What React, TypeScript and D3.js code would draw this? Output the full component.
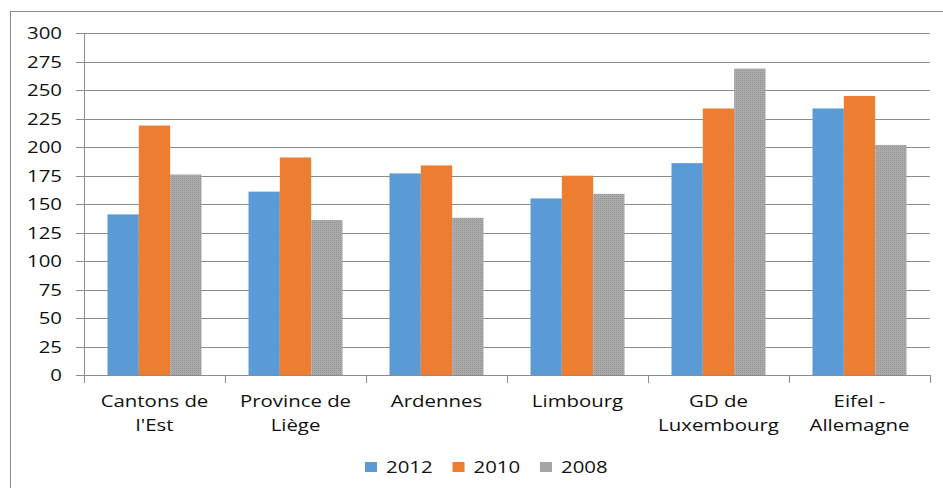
import React from 'react';
import * as d3 from 'd3';

const categories = [
  ["Cantons de", "l'Est"],
  ['Province de', 'Liège'],
  ['Ardennes'],
  ['Limbourg'],
  ['GD de', 'Luxembourg'],
  ['Eifel -', 'Allemagne'],
];
const seriesNames = ['2012', '2010', '2008'];
const values2012 = [141, 161, 177, 155, 186, 234];
const values2010 = [219, 191, 184, 175, 234, 245];
const values2008 = [176, 136, 138, 159, 269, 202];
const yTicks = [0, 25, 50, 75, 100, 125, 150, 175, 200, 225, 250, 275, 300];

const colors = ['#5B9BD5', '#ED7D31', 'url(#dots)'];
const legendColors = ['#5B9BD5', '#ED7D31', '#A5A5A5'];

const width = 943;
const height = 488;
const margin = { top: 33.3, right: 13, bottom: 113, left: 84 };
const font = "'Open Sans', sans-serif";
const sx = 1.2;

const App: React.FC = () => {
  const series = [values2012, values2010, values2008];
  const x0 = d3.scaleBand<number>()
    .domain(d3.range(categories.length))
    .range([margin.left, width - margin.right])
    .paddingInner(0)
    .paddingOuter(0);
  const x1 = d3.scaleBand<number>()
    .domain(d3.range(seriesNames.length))
    .range([x0.bandwidth() * 0.1667, x0.bandwidth() * 0.8333]);
  const y = d3.scaleLinear().domain([0, 300]).range([height - margin.bottom, margin.top]);
  const x0Right = width - margin.right;

  return (
    <svg width={width} height={height} style={{ position: 'absolute', left: 0, top: 0 }}>
      <defs>
        <pattern id="dots" width={2} height={2} patternUnits="userSpaceOnUse">
          <rect width={2} height={2} fill="#ababab" />
          <rect width={1} height={1} fill="#939393" />
        </pattern>
      </defs>
      <rect width={width} height={height} fill="#fff" />
      <rect x={10.5} y={11.5} width={width + 20} height={height + 20} fill="none" stroke="#8a8a8a" />

      {yTicks.map(t => (
        <g key={t}>
          {t > 0 && (
            <line x1={margin.left} x2={x0Right} y1={Math.round(y(t)) + 0.5} y2={Math.round(y(t)) + 0.5} stroke="#8c8c8c" />
          )}
          <line x1={76} x2={margin.left} y1={Math.round(y(t)) + 0.5} y2={Math.round(y(t)) + 0.5} stroke="#8c8c8c" />
          <text
            transform={`translate(62,${y(t) + 6}) scale(${sx},1)`}
            textAnchor="end"
            fontFamily={font}
            fontSize={17}
            fill="#111"
          >
            {t}
          </text>
        </g>
      ))}

      {series.map((vals, si) =>
        vals.map((v, ci) => (
          <rect
            key={`${si}-${ci}`}
            x={(x0(ci) ?? 0) + (x1(si) ?? 0)}
            y={y(v)}
            width={x1.bandwidth()}
            height={y(0) - y(v)}
            fill={colors[si]}
          />
        ))
      )}

      <line x1={margin.left + 0.5} x2={margin.left + 0.5} y1={margin.top} y2={y(0)} stroke="#8c8c8c" />
      <line x1={margin.left} x2={x0Right} y1={Math.round(y(0)) + 0.5} y2={Math.round(y(0)) + 0.5} stroke="#8c8c8c" />
      {d3.range(categories.length + 1).map(i => {
        const xx = Math.round(margin.left + i * x0.bandwidth()) + 0.5;
        return <line key={i} x1={xx} x2={xx} y1={y(0)} y2={y(0) + 8} stroke="#8c8c8c" />;
      })}

      {categories.map((lines, ci) => {
        const cx = (x0(ci) ?? 0) + x0.bandwidth() / 2;
        return lines.map((l, li) => (
          <text
            key={`${ci}-${li}`}
            transform={`translate(${cx},${407 + li * 24}) scale(${sx},1)`}
            textAnchor="middle"
            fontFamily={font}
            fontSize={17}
            fill="#111"
          >
            {l}
          </text>
        ));
      })}

      {seriesNames.map((name, i) => {
        const lx = 365 + i * 87.5;
        return (
          <g key={name}>
            <rect x={lx} y={462} width={12} height={10} fill={legendColors[i]} />
            <text
              transform={`translate(${lx + 21},${472.5}) scale(${sx},1)`}
              fontFamily={font}
              fontSize={17}
              fill="#111"
            >
              {name}
            </text>
          </g>
        );
      })}
    </svg>
  );
};

export default App;
